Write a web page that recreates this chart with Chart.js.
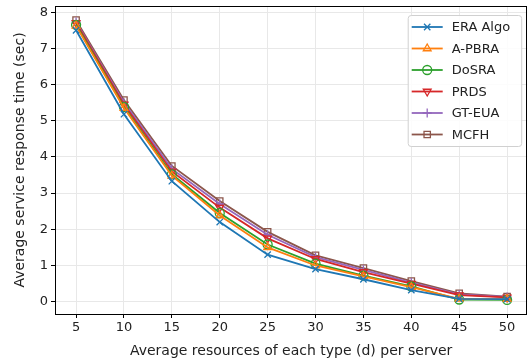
<!DOCTYPE html>
<html>
<head>
<meta charset="utf-8">
<script src="https://cdn.jsdelivr.net/npm/chart.js@4/dist/chart.umd.min.js"></script>
<style>
  html, body { margin: 0; padding: 0; background: #fff; overflow: hidden; }
  #wrap { width: 529px; height: 362px; overflow: hidden; }
  canvas { display: block; }
</style>
</head>
<body>
<div id="wrap"><canvas id="c" width="533" height="362"></canvas></div>
<script>
// Average resources of each type (d) per server
const resources = [5, 10, 15, 20, 25, 30, 35, 40, 45, 50];
const xTicks = [5, 10, 15, 20, 25, 30, 35, 40, 45, 50];
const yTicks = [0, 1, 2, 3, 4, 5, 6, 7, 8];

// Average service response time (sec) for each algorithm
const eraAlgo = [7.50, 5.18, 3.33, 2.20, 1.30, 0.90, 0.62, 0.32, 0.08, 0.07];
const aPbra   = [7.62, 5.35, 3.48, 2.38, 1.50, 1.00, 0.70, 0.40, 0.08, 0.07];
const doSra   = [7.65, 5.38, 3.52, 2.45, 1.58, 1.05, 0.72, 0.42, 0.06, 0.05];
const prds    = [7.70, 5.45, 3.60, 2.60, 1.75, 1.18, 0.82, 0.50, 0.18, 0.12];
const gtEua   = [7.73, 5.50, 3.67, 2.70, 1.85, 1.23, 0.88, 0.53, 0.20, 0.13];
const mcfh    = [7.78, 5.57, 3.75, 2.78, 1.93, 1.28, 0.93, 0.57, 0.23, 0.14];

const FONT = "'DejaVu Sans', sans-serif";

function series(label, values, color, style, rotation) {
  return {
    label,
    data: resources.map((x, i) => ({ x, y: values[i] })),
    borderColor: color,
    backgroundColor: color,
    pointBorderColor: color,
    pointBackgroundColor: 'rgba(0,0,0,0)',
    pointStyle: style,
    pointRotation: rotation || 0,
    pointRadius: 4.5,
    pointBorderWidth: 1.3,
    borderWidth: 1.8,
    tension: 0,
    fill: false
  };
}

const datasets = [
  series('ERA Algo', eraAlgo, '#1f77b4', 'crossRot'),
  series('A-PBRA', aPbra, '#ff7f0e', 'triangle'),
  series('DoSRA', doSra, '#2ca02c', 'circle'),
  series('PRDS', prds, '#d62728', 'triangle', 180),
  series('GT-EUA', gtEua, '#9467bd', 'cross'),
  series('MCFH', mcfh, '#8c564b', 'rect')
];

// Frame around the plot area plus an in-plot legend box at upper right
const framePlugin = {
  id: 'frame',
  afterDatasetsDraw(chart) {
    const { ctx, chartArea: a } = chart;
    ctx.save();
    ctx.strokeStyle = '#000';
    ctx.lineWidth = 1;
    ctx.strokeRect(Math.round(a.left) + 0.5, Math.round(a.top) + 0.5,
                   Math.round(a.right - a.left) - 1, Math.round(a.bottom - a.top));
    ctx.restore();
  },
  afterDraw(chart) {
    const { ctx, chartArea: a } = chart;
    const boxW = 113.5, rowH = 21.5, boxH = 131;
    const bx = a.right - 6 - boxW, by = a.top + 9;
    ctx.save();
    ctx.fillStyle = 'rgba(255,255,255,0.85)';
    ctx.strokeStyle = '#d0d0d0';
    ctx.lineWidth = 1;
    ctx.beginPath();
    if (ctx.roundRect) ctx.roundRect(bx + 0.5, by + 0.5, boxW, boxH, 3);
    else ctx.rect(bx + 0.5, by + 0.5, boxW, boxH);
    ctx.fill();
    ctx.stroke();
    ctx.font = '13px ' + FONT;
    ctx.textBaseline = 'middle';
    datasets.forEach((ds, i) => {
      const cy = by + 12 + i * rowH;
      const x0 = bx + 4, x1 = bx + 35;
      ctx.strokeStyle = ds.borderColor;
      ctx.lineWidth = 1.8;
      ctx.beginPath();
      ctx.moveTo(x0, cy);
      ctx.lineTo(x1, cy);
      ctx.stroke();
      ctx.lineWidth = 1.3;
      ctx.fillStyle = 'rgba(0,0,0,0)';
      Chart.helpers.drawPoint(ctx, {
        pointStyle: ds.pointStyle,
        rotation: ds.pointRotation,
        radius: 4.5,
        borderWidth: 1.3
      }, (x0 + x1) / 2, cy);
      ctx.fillStyle = '#222';
      ctx.fillText(ds.label, bx + 44, cy + 1);
    });
    ctx.restore();
  }
};

new Chart(document.getElementById('c'), {
  type: 'line',
  data: { datasets },
  plugins: [framePlugin],
  options: {
    responsive: false,
    animation: false,
    layout: { padding: { top: 6, right: -1, left: 0, bottom: 0 } },
    plugins: {
      legend: { display: false },
      tooltip: { enabled: false }
    },
    scales: {
      x: {
        type: 'linear',
        min: 2.8,
        max: 52.1,
        afterBuildTicks(s) { s.ticks = xTicks.map(v => ({ value: v })); },
        afterFit(s) { s.height = 48; s.paddingLeft = 0; s.paddingRight = 0; },
        grid: { color: '#e8e8e8', lineWidth: 1, tickColor: '#000', tickLength: 4, drawOnChartArea: true },
        border: { display: false },
        ticks: { color: '#222', font: { family: FONT, size: 13 }, padding: 2, maxRotation: 0 },
        title: {
          display: true,
          text: 'Average resources of each type (d) per server',
          color: '#222',
          font: { family: FONT, size: 14 },
          padding: { top: 0, bottom: 2 }
        }
      },
      y: {
        type: 'linear',
        min: -0.34,
        max: 8.17,
        afterBuildTicks(s) { s.ticks = yTicks.map(v => ({ value: v })); },
        afterFit(s) { s.width = 55; s.paddingTop = 0; s.paddingBottom = 0; },
        grid: { color: '#e8e8e8', lineWidth: 1, tickColor: '#000', tickLength: 4 },
        border: { display: false },
        ticks: { color: '#222', font: { family: FONT, size: 13 }, padding: 3 },
        title: {
          display: true,
          text: 'Average service response time (sec)',
          color: '#222',
          font: { family: FONT, size: 14 },
          padding: { top: 12, bottom: 0 }
        }
      }
    }
  }
});
</script>
</body>
</html>
